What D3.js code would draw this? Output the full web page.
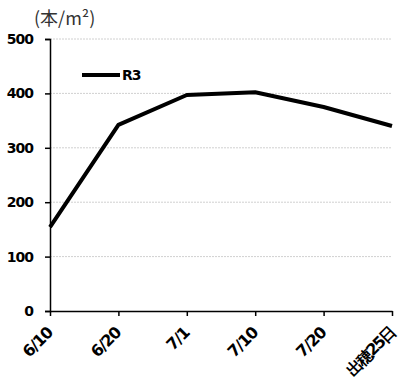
<!DOCTYPE html>
<html><head><meta charset="utf-8">
<script src="https://cdn.jsdelivr.net/npm/d3@7"></script>
<style>body{margin:0;background:#fff}</style>
</head><body><svg id="c" width="400" height="381"></svg>
<script>
const categories = ["6/10","6/20","7/1","7/10","7/20","出穂25日"];
const seriesName = "R3";
const values = [154, 342, 397, 402, 375, 340];
const yTicks = [0,100,200,300,400,500];
const unitLabel = "(本/m²)";

const svg = d3.select("#c");
const L = 50, R = 392, T = 39, B = 311;
const x = d3.scalePoint().domain(categories).range([L, R]);
const y = d3.scaleLinear().domain([0,500]).range([B, T]);
const font = "'DejaVu Sans', Verdana, sans-serif";

// gridlines
svg.append("g").selectAll("line").data(yTicks.filter(d=>d>0)).join("line")
  .attr("x1", L).attr("x2", R).attr("y1", d=>y(d)).attr("y2", d=>y(d))
  .attr("stroke", "#d0d0d0").attr("stroke-width", 1).attr("stroke-dasharray","2,1");

// y axis
const ya = svg.append("g").attr("transform", `translate(${L},0)`)
  .call(d3.axisLeft(y).tickValues(yTicks).tickSize(5).tickPadding(12));
ya.select(".domain").attr("stroke","#000").attr("stroke-width",1.5);
ya.selectAll("line").attr("stroke","#000").attr("stroke-width",1.5);
ya.selectAll("text").attr("font-family", font).attr("font-weight","bold")
  .attr("font-size", 14).attr("fill","#000").attr("letter-spacing","-1");

// x axis
const xa = svg.append("g").attr("transform", `translate(0,${B})`)
  .call(d3.axisBottom(x).tickSize(5).tickSizeOuter(0));
xa.select(".domain").attr("stroke","#000").attr("stroke-width",1.5);
xa.selectAll("line").attr("stroke","#000").attr("stroke-width",1.5);
xa.selectAll("text").attr("font-family", font).attr("font-weight","bold")
  .attr("font-size", 16).attr("fill","#000")
  .attr("letter-spacing", d => /[^\x00-\x7F]/.test(d) ? "-2" : "-1.2")
  .attr("text-anchor","end").attr("x", 0).attr("dy", "0").attr("y", 0)
  .attr("transform","translate(3,23) rotate(-45)");

// line
svg.append("path").datum(values)
  .attr("d", d3.line().x((d,i)=>x(categories[i])).y(d=>y(d)))
  .attr("fill","none").attr("stroke","#000").attr("stroke-width",4)
  .attr("stroke-linejoin","round");

// legend
svg.append("line").attr("x1",82).attr("x2",120).attr("y1",75).attr("y2",75)
  .attr("stroke","#000").attr("stroke-width",4);
svg.append("text").attr("x",122).attr("y",80).text(seriesName)
  .attr("font-family",font).attr("font-weight","bold").attr("font-size",14).attr("letter-spacing","-1");

// unit label
svg.append("text").attr("x",34).attr("y",25).text(unitLabel)
  .attr("font-family","'Noto Sans CJK JP', sans-serif").attr("font-size",18).attr("fill","#333");
</script></body></html>
